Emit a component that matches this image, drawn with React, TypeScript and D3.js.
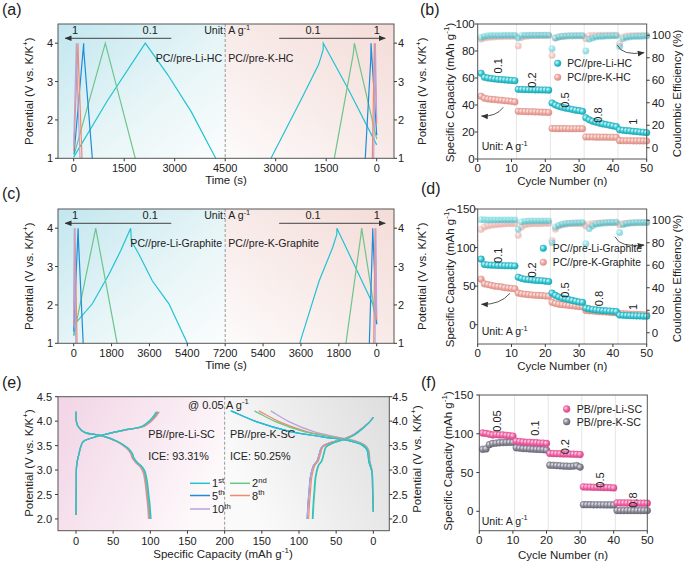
import React from 'react';
import * as d3 from 'd3';

type Pt = [number, number];
const FONT = 'Arial, "Liberation Sans", Helvetica, sans-serif';

// ---------------- (a) PC//pre-Li-HC | PC//pre-K-HC ----------------
const aHalf = 4500;
const aTimeTicks = [0, 1500, 3000, 4500];
const aLi01: Pt[] = [[0, 1.03], [1000, 2.5], [2127, 4.0], [2800, 3.17], [3494, 2.21], [4218, 1.0]];
const aLi02: Pt[] = [[30, 1.15], [939, 4.0], [1830, 1.0]];
const aLi05: Pt[] = [[10, 1.1], [297, 4.0], [300, 3.8], [553, 1.0]];
const aLi08: Pt[] = [[5, 1.2], [128, 4.0], [135, 3.7], [247, 1.0]];
const aLi1: Pt[] = [[0, 1.3], [79, 4.0], [85, 3.6], [188, 1.0]];
const aK01: Pt[] = [[0, 1.35], [843, 2.8], [1586, 4.0], [1590, 3.84], [1650, 3.65], [1733, 3.43], [2228, 2.56], [3140, 1.0]];
const aK02: Pt[] = [[0, 1.5], [664, 4.0], [694, 3.73], [1259, 1.0]];
const aK05: Pt[] = [[0, 1.6], [169, 4.0], [175, 3.6], [340, 1.0]];
const aK08: Pt[] = [[0, 1.9], [70, 4.0], [75, 3.7], [130, 1.0]];
const aK1: Pt[] = [[0, 2.0], [40, 4.0], [45, 3.6], [90, 1.0]];

// ---------------- (c) PC//pre-Li-Graphite | PC//pre-K-Graphite ----------------
const cHalf = 7200;
const cTimeTicks = [0, 1800, 3600, 5400, 7200];
const cLi01: Pt[] = [[0, 1.2], [130, 1.55], [885, 2.03], [1677, 2.8], [2232, 3.41], [2707, 4.0], [2740, 3.67], [3100, 3.32], [3734, 2.63], [4527, 2.03], [5400, 1.0]];
const cLi02: Pt[] = [[0, 1.2], [1048, 4.0], [1080, 3.9], [2063, 1.0]];
const cLi05: Pt[] = [[0, 1.3], [210, 4.0], [225, 3.7], [451, 1.0]];
const cLi08: Pt[] = [[0, 1.5], [60, 4.0], [70, 3.6], [160, 1.0]];
const cLi1: Pt[] = [[0, 1.6], [30, 4.0], [40, 3.6], [100, 1.0]];
const cK01: Pt[] = [[0, 1.5], [190, 2.03], [1891, 4.0], [1895, 3.84], [2097, 3.49], [2733, 2.63], [3591, 1.12], [3655, 1.0]];
const cK02: Pt[] = [[0, 1.5], [715, 4.0], [745, 3.84], [1462, 1.0]];
const cK05: Pt[] = [[0, 1.5], [190, 4.0], [200, 3.7], [350, 1.0]];
const cK08: Pt[] = [[0, 1.6], [80, 4.0], [85, 3.6], [140, 1.0]];
const cK1: Pt[] = [[0, 1.7], [40, 4.0], [50, 3.6], [80, 1.0]];

const potTicks = [1, 2, 3, 4];
const rates = ['0.1', '0.2', '0.5', '0.8', '1'];

// ---------------- (b) rate, HC ----------------
const cycles = d3.range(1, 51);
const bLiCap = [63.5, 60.5, 60, 59.6, 59.3, 59, 58.8, 58.6, 58.4, 58.2, 58,
  51.6, 51.5, 51.4, 51.3, 51.3, 51.2, 51.2, 51.1, 51.1, 51,
  41.5, 40, 39, 38.3, 37.7, 37.2, 36.7, 36.2, 35.8, 35.3,
  30.5, 29, 28, 27.3, 26.6, 26, 25.5, 25, 24.5, 24,
  21.6, 21.3, 21, 20.8, 20.5, 20.3, 20, 19.8, 19.5];
const bKCap = [46.5, 45, 44.5, 44.2, 44, 43.7, 43.5, 43.2, 43, 42.7, 42.3,
  35.3, 35.2, 35.1, 35, 35, 34.9, 34.8, 34.7, 34.6, 34.5,
  22.6, 22.5, 22.5, 22.5, 22.5, 22.4, 22.4, 22.4, 22.4, 22.4,
  16.3, 16.3, 16.3, 16.2, 16.2, 16.2, 16.2, 16.1, 16.1, 16.1,
  13.6, 13.5, 13.5, 13.5, 13.4, 13.4, 13.4, 13.4, 13.3];
const bLiCE = [98, 99, 99.5, 99.7, 99.8, 99.8, 99.8, 99.9, 99.9, 99.9, 99.9,
  97.5, 99.8, 99.9, 99.9, 100, 100, 100, 100, 100, 100,
  88, 97.5, 98.5, 99, 99.3, 99.5, 99.5, 99.6, 99.6, 99.6,
  86, 96.5, 97.5, 98.5, 99, 99, 99.3, 99.3, 99.5, 99.5,
  90, 97, 98, 98.5, 98.8, 99, 99, 99.2, 99.3];
const bKCE = [96.5, 97.5, 98, 98.3, 98.5, 98.7, 98.8, 98.9, 99, 99, 99.1,
  90.5, 98, 99, 99.3, 99.5, 99.6, 99.7, 99.7, 99.8, 99.8,
  82, 97.5, 98.5, 99, 99.2, 99.3, 99.4, 99.5, 99.5, 99.5,
  97, 99.5, 99.7, 99.8, 99.9, 99.9, 100, 100, 100, 100,
  92.5, 98.5, 99.2, 99.5, 99.6, 99.7, 99.8, 99.8, 99.8];
const bRateAt: Pt[] = [[6.1, 69], [16, 58.5], [25.8, 43.7], [35.7, 32.6], [46, 27.6]];

// ---------------- (d) rate, Graphite ----------------
const dLiCap = [85, 78, 77.5, 77.2, 77, 76.8, 76.7, 76.5, 76.4, 76.3, 76.2,
  61.5, 60, 59, 58.5, 58, 57.5, 57.2, 57, 56.5, 56,
  41, 38, 36, 34.5, 33.5, 32.5, 31.5, 30.5, 29.5, 29,
  21.5, 20.5, 19.8, 19.2, 18.7, 18.3, 18, 17.7, 17.4, 17,
  12.5, 12.2, 12, 11.8, 11.6, 11.4, 11.3, 11.1, 11];
const dKCap = [59, 53, 52, 51, 50, 49.5, 49, 48, 47.5, 47, 46.5,
  41, 40, 39.5, 39, 38.5, 38.2, 38, 37.7, 37.3, 37,
  29, 27.5, 26.5, 26, 25.5, 25, 24.5, 24, 23.5, 23,
  18.5, 18, 17.7, 17.3, 17, 16.7, 16.4, 16, 15.7, 15.3,
  14.5, 14.2, 14, 13.8, 13.6, 13.4, 13.2, 13, 12.8];
const dLiCE = [100.5, 100.3, 100.2, 100.2, 100.2, 100.2, 100.2, 100.2, 100.2, 100.2, 100.2,
  92, 98.5, 99, 99.2, 99.3, 99.3, 99.3, 99.3, 99.3, 99.3,
  80, 94, 95.5, 96.5, 97, 97.3, 97.5, 97.7, 97.8, 98,
  79, 92.5, 95, 96.5, 97, 97.5, 97.8, 98, 98, 98.2,
  89, 96, 97, 97.5, 97.8, 98, 98, 98, 98];
const dKCE = [91.8, 94, 95, 95.5, 96, 96.3, 96.5, 96.8, 97, 97, 97,
  86.7, 94, 96, 96.5, 97, 97, 97, 97.2, 97.2, 97.2,
  82, 92, 95, 96, 96.5, 97, 97, 97, 97, 97,
  95, 96.5, 97, 97.3, 97.5, 97.6, 97.7, 97.8, 97.8, 97.8,
  96, 97, 97.3, 97.5, 97.6, 97.7, 97.8, 97.8, 97.8];
const dRateAt: Pt[] = [[6.1, 90], [16, 71], [25.8, 45], [36, 34], [46, 23]];

// ---------------- (e) PB//pre-Li-SC | PB//pre-K-SC ----------------
const eCycleNames = ['1', '2', '5', '8', '10'];
const eCycleSups = ['st', 'nd', 'th', 'th', 'th'];
const eLiCharge: Pt[] = [[0, 2.08], [0.4, 2.7], [0.9, 3.1], [3.6, 3.31], [9.5, 3.58], [20, 3.65], [40, 3.735], [65, 3.82], [88, 3.89], [99.5, 4.02], [104, 4.1], [108, 4.19]];
const eLiDischarge: Pt[] = [[0, 4.19], [0.3, 4.05], [1, 3.96], [3, 3.89], [11.7, 3.77], [36, 3.7], [57, 3.58], [70, 3.45], [76, 3.34], [78, 3.25], [83, 3.15], [89, 3.07], [93, 2.97], [96, 2.76], [98, 2.5], [99.5, 2.3], [101, 2.0]];
const eLiChargeEnd = [108, 109, 110, 111, 112];
const eLiDischargeEnd = [101, 100, 99.5, 98.5, 97.5];
const eKCharge: Pt[] = [[0, 2.15], [1, 2.6], [2, 2.97], [6, 3.17], [8.5, 3.41], [15, 3.51], [33, 3.6], [69, 3.68], [113, 3.79], [158, 3.99], [180, 4.13], [192, 4.21]];
const eKDischarge: Pt[] = [[0, 4.08], [5, 3.98], [15, 3.84], [25, 3.72], [33, 3.66], [40, 3.62], [55, 3.55], [64, 3.47], [67, 3.33], [70, 3.18], [74, 3.1], [78, 2.86], [79.5, 2.6], [81, 2.3], [82, 2.0]];
const eKChargeEnd = [192, 160, 191, 154, 138];
const eKDischargeEnd = [82, 81, 89, 87, 89];
const eCapTicks = [0, 50, 100, 150, 200];
const eVTicks = [2.0, 2.5, 3.0, 3.5, 4.0, 4.5];

// ---------------- (f) rate, SC ----------------
const fLiCap = [101, 100.5, 99.5, 98.5, 99, 98.5, 98.5, 98, 97.5, 97,
  90.5, 90, 89.5, 89, 89, 88.5, 88.5, 88, 88, 87.5,
  74.6, 74.5, 74.3, 74.2, 74, 74, 73.8, 73.7, 73.5, 73.3,
  31.5, 31.3, 31.2, 31, 31, 30.8, 30.7, 30.6, 30.5, 30.2,
  10.9, 10.8, 10.8, 10.7, 10.7, 10.6, 10.6, 10.5, 10.5, 10.4];
const fKCap = [80, 80.5, 86, 87.5, 88, 88.4, 88.6, 88.8, 89, 89,
  82, 81.5, 81, 80.8, 80.5, 80.2, 80, 79.8, 79.5, 79,
  59.5, 59.3, 59, 58.7, 58.4, 58.2, 58, 58.3, 58.8, 57,
  8.5, 8.5, 8.5, 8.4, 8.4, 8.4, 8.4, 8.3, 8.3, 8.3,
  1, 1, 1, 1, 1, 1, 1, 1, 1, 1];
const fRates = ['0.05', '0.1', '0.2', '0.5', '0.8'];
const fRateAt: Pt[] = [[5.2, 116.5], [16.6, 107.4], [25.5, 83.3], [35.9, 40.4], [45.7, 14.6]];

// ---------------- styling ----------------
const LINE_COLORS = ['#22c3d3', '#6cc58a', '#1c8cdb', '#f2896b', '#b8a3da'];
const AX = '#3a3a3a';

const Sup = ({ t, fs, after }: { t: string; fs: number; after?: string }) => (
  <>
    <tspan dy={-fs * 0.4} fontSize={fs * 0.7}>{t}</tspan>
    {after !== undefined ? <tspan dy={fs * 0.4}>{after}</tspan> : null}
  </>
);

function Frame({ x0, x1, y0, y1 }: any) {
  return <rect x={x0} y={y0} width={x1 - x0} height={y1 - y0} fill="none" stroke="#555" strokeWidth={1} />;
}

function XTicks({ pos, labels, y, fs = 11, off = 13.5 }: any) {
  return (
    <g>
      {pos.map((p: number, i: number) => (
        <g key={i}>
          <line x1={p} x2={p} y1={y} y2={y + 3} stroke={AX} />
          <text x={p} y={y + off} textAnchor="middle" fontSize={fs} fill="#222">{labels[i]}</text>
        </g>
      ))}
    </g>
  );
}

function YTicks({ pos, labels, x, side, fs = 11, gap = 5 }: any) {
  return (
    <g>
      {pos.map((p: number, i: number) => (
        <g key={i}>
          <line x1={x} x2={side === 'L' ? x - 3 : x + 3} y1={p} y2={p} stroke={AX} />
          <text x={side === 'L' ? x - gap : x + gap} y={p + 4} textAnchor={side === 'L' ? 'end' : 'start'} fontSize={fs} fill="#222">{labels[i]}</text>
        </g>
      ))}
    </g>
  );
}

function PotTitle({ x, y }: { x: number; y: number }) {
  return (
    <text transform={`translate(${x},${y}) rotate(-90)`} textAnchor="middle" fontSize={11.5} fill="#222">
      Potential (V vs. K/K<Sup t="+" fs={11.5} after=")" />
    </text>
  );
}

function CapTitle({ x, y }: { x: number; y: number }) {
  return (
    <text transform={`translate(${x},${y}) rotate(-90)`} textAnchor="middle" fontSize={11.5} fill="#222">
      Specific Capacity (mAh g<Sup t="-1" fs={11.5} after=")" />
    </text>
  );
}

function Unit({ x, y, fs = 10.6 }: any) {
  return (
    <text x={x} y={y} fontSize={fs} fill="#222">
      Unit: A g<Sup t="-1" fs={fs} />
    </text>
  );
}

// ------------ Potential-time panel (a) and (c) -------------
function TimePanel({ top, half, ticks, li, k, liName, kName }: any) {
  const x0 = 58, x1 = 394, y0 = top, y1 = top + 134.3;
  const xs = d3.scaleLinear().domain([-0.1036 * half, 2 * half + 0.1142 * half]).range([x0, x1]);
  const ys = d3.scaleLinear().domain([1, 4.5]).range([y1, y0]);
  const xm = xs(half);
  const lineL = d3.line<Pt>().x(d => xs(d[0])).y(d => ys(d[1]));
  const lineR = d3.line<Pt>().x(d => xs(2 * half - d[0])).y(d => ys(d[1]));
  const pos = [...ticks.map((t: number) => xs(t)), ...ticks.slice(0, -1).reverse().map((t: number) => xs(2 * half - t))];
  const labs = [...ticks.map(String), ...ticks.slice(0, -1).reverse().map(String)];
  const ay = y0 + 14.3;
  const gid = `g${top}`;
  return (
    <g>
      <defs>
        <linearGradient id={`${gid}L`} x1="0" y1="0" x2="1" y2="1">
          <stop offset="0" stopColor="#c2e7ef" />
          <stop offset="0.55" stopColor="#e7f5f7" />
          <stop offset="1" stopColor="#fbfdfd" />
        </linearGradient>
        <linearGradient id={`${gid}R`} x1="1" y1="0" x2="0" y2="1">
          <stop offset="0" stopColor="#f4dcd8" />
          <stop offset="0.55" stopColor="#f8ecea" />
          <stop offset="1" stopColor="#fdfbfb" />
        </linearGradient>
      </defs>
      <rect x={x0} y={y0} width={xm - x0} height={y1 - y0} fill={`url(#${gid}L)`} />
      <rect x={xm} y={y0} width={x1 - xm} height={y1 - y0} fill={`url(#${gid}R)`} />
      <line x1={xm} x2={xm} y1={y0} y2={y1} stroke="#999" strokeDasharray="3,2" />
      <g fill="none" strokeWidth={1.2}>
        {li.map((c: Pt[], i: number) => <path key={'l' + i} d={lineL(c) || ''} stroke={LINE_COLORS[i]} />)}
        {k.map((c: Pt[], i: number) => <path key={'k' + i} d={lineR(c) || ''} stroke={LINE_COLORS[i]} />)}
      </g>
      <line x1={xs(0.644 * half)} x2={xs(-0.056 * half)} y1={ay} y2={ay} stroke="#444" strokeWidth={1} markerEnd="url(#arrowHead)" />
      <line x1={xs(2 * half - 0.644 * half)} x2={xs(2 * half + 0.056 * half)} y1={ay} y2={ay} stroke="#444" strokeWidth={1} markerEnd="url(#arrowHead)" />
      <text x={xs(0.009 * half)} y={ay - 4} textAnchor="middle" fontSize={11} fill="#222">{rates[4]}</text>
      <text x={xs(0.505 * half)} y={ay - 4} textAnchor="middle" fontSize={11} fill="#222">{rates[0]}</text>
      <text x={xs(2 * half - 0.42 * half)} y={ay - 4} textAnchor="middle" fontSize={11} fill="#222">{rates[0]}</text>
      <text x={xs(2 * half)} y={ay - 4} textAnchor="middle" fontSize={11} fill="#222">{rates[4]}</text>
      <Unit x={xm - 21} y={ay - 4} />
      <text x={xm - 3} y={y0 + 37.7} textAnchor="end" fontSize={10.6} fill="#222">{liName}</text>
      <text x={xm + 3} y={y0 + 37.7} textAnchor="start" fontSize={10.6} fill="#222">{kName}</text>
      <Frame x0={x0} x1={x1} y0={y0} y1={y1} />
      <XTicks pos={pos} labels={labs} y={y1} />
      <YTicks pos={potTicks.map(v => ys(v))} labels={potTicks.map(String)} x={x0} side="L" />
      <YTicks pos={potTicks.map(v => ys(v))} labels={potTicks.map(String)} x={x1} side="R" gap={4} />
      <text x={(x0 + x1) / 2} y={y1 + 26} textAnchor="middle" fontSize={11.5} fill="#222">Time (s)</text>
      <PotTitle x={33} y={(y0 + y1) / 2} />
      <PotTitle x={426} y={(y0 + y1) / 2} />
    </g>
  );
}

function Ball({ x, y, g, r = 3.3, op = 1, stroke }: any) {
  return <circle cx={x} cy={y} r={r} fill={`url(#${g})`} stroke={stroke} strokeWidth={0.5} opacity={op} />;
}

// ------------ Rate panels (b), (d) -------------
function RatePanel({ top, capDomain, capTicks, li, k, liCE, kCE, liName, kName, rateAt, legX, arrows, capGap }: any) {
  const x0 = 477.7, x1 = 646.7, y0 = top, y1 = top + 135;
  const xs = d3.scaleLinear().domain([0, 50]).range([x0, x1]);
  const ys = d3.scaleLinear().domain(capDomain).range([y1, y0]);
  const ce = d3.scaleLinear().domain([-10, 110]).range([y1, y0]);
  const ceTicks = [0, 20, 40, 60, 80, 100];
  return (
    <g>
      {[11.5, 21.5, 31.5, 41.5].map(s => <line key={s} x1={xs(s)} x2={xs(s)} y1={y0} y2={y1} stroke="#e6e6e6" strokeWidth={1} />)}
      {cycles.map((c, i) => <Ball key={'kce' + i} x={xs(c)} y={ce(kCE[i])} g="gPink" op={0.55} stroke="#e8b0aa" />)}
      {cycles.map((c, i) => <Ball key={'lce' + i} x={xs(c)} y={ce(liCE[i])} g="gCyan" op={0.5} stroke="#7fd8e0" />)}
      {cycles.map((c, i) => <Ball key={'k' + i} x={xs(c)} y={ys(k[i])} g="gPink" stroke="#d98e86" />)}
      {cycles.map((c, i) => <Ball key={'l' + i} x={xs(c)} y={ys(li[i])} g="gCyan" stroke="#1aa7b4" />)}
      {rateAt.map((p: Pt, i: number) => (
        <text key={i} transform={`translate(${xs(p[0])},${ys(p[1])}) rotate(-90)`} textAnchor="middle" dominantBaseline="central" fontSize={11} fill="#222">{rates[i]}</text>
      ))}
      <Ball x={legX} y={y0 + 39.3} g="gCyan" stroke="#1aa7b4" />
      <text x={legX + 9.5} y={y0 + 43.3} fontSize={10.3} fill="#222">{liName}</text>
      <Ball x={legX} y={y0 + 53.3} g="gPink" stroke="#d98e86" />
      <text x={legX + 9.5} y={y0 + 57.3} fontSize={10.3} fill="#222">{kName}</text>
      {arrows.map((a: number[], i: number) => (
        <path key={i} d={`M${a[0]},${a[1]} Q${a[2]},${a[3]} ${a[4]},${a[5]}`} fill="none" stroke="#444" strokeWidth={0.9} markerEnd="url(#arrowHead)" />
      ))}
      <Unit x={481.7} y={y1 - 9} />
      <Frame x0={x0} x1={x1} y0={y0} y1={y1} />
      <XTicks pos={[0, 10, 20, 30, 40, 50].map(v => xs(v))} labels={['0', '10', '20', '30', '40', '50']} y={y1} fs={11.5} off={13} />
      <YTicks pos={capTicks.map((v: number) => ys(v))} labels={capTicks.map(String)} x={x0} side="L" fs={11.5} gap={capGap} />
      <YTicks pos={ceTicks.map(v => ce(v))} labels={ceTicks.map(String)} x={x1} side="R" fs={11.5} gap={5} />
      <text x={(x0 + x1) / 2} y={y1 + 26} textAnchor="middle" fontSize={11.5} fill="#222">Cycle Number (n)</text>
      <CapTitle x={454} y={(y0 + y1) / 2 + 1} />
      <text transform={`translate(681,${(y0 + y1) / 2 + 2}) rotate(-90)`} textAnchor="middle" fontSize={11.5} fill="#222">Coulombic Efficiency (%)</text>
    </g>
  );
}

// ------------ (e) -------------
function PanelE() {
  const x0 = 58, x1 = 389.3, y0 = 396.7, y1 = 530.7;
  const xs = d3.scaleLinear().domain([-24.2, 421.5]).range([x0, x1]);
  const ys = d3.scaleLinear().domain([1.76, 4.5]).range([y1, y0]);
  const xm = xs(200);
  const lineLc = d3.line<Pt>().x(d => xs(d[0])).y(d => ys(d[1])).curve(d3.curveCatmullRom);
  const lineRc = d3.line<Pt>().x(d => xs(400 - d[0])).y(d => ys(d[1])).curve(d3.curveCatmullRom);
  const sc = (shape: Pt[], end: number): Pt[] => {
    const base = shape[shape.length - 1][0];
    return shape.map(([c, v]) => [c * end / base, v] as Pt);
  };
  const pos = [...eCapTicks.map(t => xs(t)), ...eCapTicks.slice(0, -1).reverse().map(t => xs(400 - t))];
  const labs = [...eCapTicks.map(String), ...eCapTicks.slice(0, -1).reverse().map(String)];
  const order = [2, 4, 3, 1, 0];
  return (
    <g>
      <defs>
        <linearGradient id="eL" x1="0" y1="0" x2="1" y2="0.4">
          <stop offset="0" stopColor="#f2d4e6" />
          <stop offset="0.6" stopColor="#f8e9f1" />
          <stop offset="1" stopColor="#fdf8fa" />
        </linearGradient>
        <linearGradient id="eR" x1="1" y1="0" x2="0" y2="0.4">
          <stop offset="0" stopColor="#dedede" />
          <stop offset="0.6" stopColor="#eeeeee" />
          <stop offset="1" stopColor="#fafafa" />
        </linearGradient>
      </defs>
      <rect x={x0} y={y0} width={xm - x0} height={y1 - y0} fill="url(#eL)" />
      <rect x={xm} y={y0} width={x1 - xm} height={y1 - y0} fill="url(#eR)" />
      <line x1={xm} x2={xm} y1={y0} y2={y1} stroke="#999" strokeDasharray="3,2" />
      <g fill="none" strokeWidth={1.2}>
        {order.map(i => <path key={'lc' + i} d={lineLc(sc(eLiCharge, eLiChargeEnd[i])) || ''} stroke={LINE_COLORS[i]} />)}
        {order.map(i => <path key={'ld' + i} d={lineLc(sc(eLiDischarge, eLiDischargeEnd[i])) || ''} stroke={LINE_COLORS[i]} />)}
        {order.map(i => <path key={'rc' + i} d={lineRc(sc(eKCharge, eKChargeEnd[i])) || ''} stroke={LINE_COLORS[i]} />)}
        {order.map(i => <path key={'rd' + i} d={lineRc(sc(eKDischarge, eKDischargeEnd[i])) || ''} stroke={LINE_COLORS[i]} />)}
      </g>
      <text x={188} y={408.5} fontSize={11} fill="#222">@ 0.05 A g<Sup t="-1" fs={11} /></text>
      <text x={148.3} y={438.3} fontSize={10.8} fill="#222">PB//pre-Li-SC</text>
      <text x={230} y={438.3} fontSize={10.8} fill="#222">PB//pre-K-SC</text>
      <text x={148.3} y={460} fontSize={10.8} fill="#222">ICE: 93.31%</text>
      <text x={230} y={460} fontSize={10.8} fill="#222">ICE: 50.25%</text>
      {eCycleNames.map((n, i) => {
        const col = i % 2, row = Math.floor(i / 2);
        const lx = col === 0 ? 190 : 230;
        const ly = [483.3, 495.5, 509][row];
        return (
          <g key={n}>
            <line x1={lx} x2={lx + 20} y1={ly} y2={ly} stroke={LINE_COLORS[i]} strokeWidth={1.5} />
            <text x={lx + 22} y={ly + 4} fontSize={11} fill="#222">{n}<Sup t={eCycleSups[i]} fs={11} /></text>
          </g>
        );
      })}
      <Frame x0={x0} x1={x1} y0={y0} y1={y1} />
      <XTicks pos={pos} labels={labs} y={y1} off={14} />
      <YTicks pos={eVTicks.map(v => ys(v))} labels={eVTicks.map(v => v.toFixed(1))} x={x0} side="L" gap={6} />
      <YTicks pos={eVTicks.map(v => ys(v))} labels={eVTicks.map(v => v.toFixed(1))} x={x1} side="R" gap={3} />
      <text x={223} y={557.5} textAnchor="middle" fontSize={11.5} fill="#222">Specific Capacity (mAh g<Sup t="-1" fs={11.5} after=")" /></text>
      <PotTitle x={33} y={463} />
      <PotTitle x={421} y={459} />
    </g>
  );
}

// ------------ (f) -------------
function PanelF() {
  const x0 = 479.3, x1 = 647.3, y0 = 395, y1 = 530.7;
  const xs = d3.scaleLinear().domain([0, 50]).range([x0, x1]);
  const ys = d3.scaleLinear().domain([-25, 150]).range([y1, y0]);
  const capT = [0, 50, 100, 150];
  return (
    <g>
      {[10.5, 20.5, 30.5, 40.5].map(s => <line key={s} x1={xs(s)} x2={xs(s)} y1={y0} y2={y1} stroke="#e6e6e6" />)}
      {cycles.map((c, i) => <Ball key={'k' + i} x={xs(c)} y={ys(fKCap[i])} g="gGray" r={3.4} stroke="#6d6d7a" />)}
      {cycles.map((c, i) => <Ball key={'l' + i} x={xs(c)} y={ys(fLiCap[i])} g="gMag" r={3.4} stroke="#d84f8e" />)}
      {fRateAt.map((p, i) => (
        <text key={i} transform={`translate(${xs(p[0])},${ys(p[1])}) rotate(-90)`} textAnchor="middle" dominantBaseline="central" fontSize={11} fill="#222">{fRates[i]}</text>
      ))}
      <Ball x={566.7} y={409} g="gMag" r={3.4} stroke="#d84f8e" />
      <text x={576.7} y={413} fontSize={10.6} fill="#222">PB//pre-Li-SC</text>
      <Ball x={566.7} y={421.7} g="gGray" r={3.4} stroke="#6d6d7a" />
      <text x={576.7} y={425.7} fontSize={10.6} fill="#222">PB//pre-K-SC</text>
      <Unit x={481.7} y={524.5} />
      <Frame x0={x0} x1={x1} y0={y0} y1={y1} />
      <XTicks pos={[0, 10, 20, 30, 40, 50].map(v => xs(v))} labels={['0', '10', '20', '30', '40', '50']} y={y1} fs={11.5} off={13} />
      <YTicks pos={capT.map(v => ys(v))} labels={capT.map(String)} x={x0} side="L" fs={11.5} gap={6} />
      <text x={563} y={558.5} textAnchor="middle" fontSize={11.5} fill="#222">Cycle Number (n)</text>
      <CapTitle x={452} y={461} />
    </g>
  );
}

export default function App() {
  return (
    <svg width={685} height={563} style={{ position: 'absolute', left: 0, top: 0, background: '#fff' }} fontFamily={FONT}>
      <defs>
        <marker id="arrowHead" viewBox="0 0 10 10" refX="9" refY="5" markerWidth="7" markerHeight="7" orient="auto-start-reverse" markerUnits="userSpaceOnUse">
          <path d="M0,1 L10,5 L0,9 z" fill="#333" />
        </marker>
        <radialGradient id="gCyan" cx="0.35" cy="0.35" r="0.7">
          <stop offset="0" stopColor="#d6f7fa" />
          <stop offset="0.5" stopColor="#3ccbd6" />
          <stop offset="1" stopColor="#159fac" />
        </radialGradient>
        <radialGradient id="gPink" cx="0.35" cy="0.35" r="0.7">
          <stop offset="0" stopColor="#fdeae7" />
          <stop offset="0.5" stopColor="#f0aaa2" />
          <stop offset="1" stopColor="#d98c84" />
        </radialGradient>
        <radialGradient id="gMag" cx="0.35" cy="0.35" r="0.7">
          <stop offset="0" stopColor="#ffd6ea" />
          <stop offset="0.5" stopColor="#f466a8" />
          <stop offset="1" stopColor="#d0408a" />
        </radialGradient>
        <radialGradient id="gGray" cx="0.35" cy="0.35" r="0.7">
          <stop offset="0" stopColor="#e6e6ee" />
          <stop offset="0.5" stopColor="#8e8e9c" />
          <stop offset="1" stopColor="#5e5e6c" />
        </radialGradient>
      </defs>
      <TimePanel top={24} half={aHalf} ticks={aTimeTicks}
        li={[aLi01, aLi02, aLi05, aLi08, aLi1]} k={[aK01, aK02, aK05, aK08, aK1]}
        liName="PC//pre-Li-HC" kName="PC//pre-K-HC" />
      <TimePanel top={209} half={cHalf} ticks={cTimeTicks}
        li={[cLi01, cLi02, cLi05, cLi08, cLi1]} k={[cK01, cK02, cK05, cK08, cK1]}
        liName="PC//pre-Li-Graphite" kName="PC//pre-K-Graphite" />
      <RatePanel top={24} capDomain={[0, 100]} capTicks={[0, 20, 40, 60, 80, 100]}
        li={bLiCap} k={bKCap} liCE={bLiCE} kCE={bKCE}
        liName="PC//pre-Li-HC" kName="PC//pre-K-HC" rateAt={bRateAt} legX={557.7} capGap={3}
        arrows={[[503.3, 107.3, 496, 117, 481.5, 116], [617.3, 45, 622, 56, 644, 52.7]]} />
      <RatePanel top={209} capDomain={[-25, 150]} capTicks={[0, 50, 100, 150]}
        li={dLiCap} k={dKCap} liCE={dLiCE} kCE={dKCE}
        liName="PC//pre-Li-Graphite" kName="PC//pre-K-Graphite" rateAt={dRateAt} legX={543.3} capGap={2}
        arrows={[[510, 293.3, 500, 305, 481.5, 304.3], [615, 236.7, 620, 248, 644, 245]]} />
      <PanelE />
      <PanelF />
      <text x={2} y={15} fontSize={16} fill="#222">(a)</text>
      <text x={420} y={15} fontSize={16} fill="#222">(b)</text>
      <text x={2} y={199} fontSize={16} fill="#222">(c)</text>
      <text x={421} y={194} fontSize={16} fill="#222">(d)</text>
      <text x={2} y={388} fontSize={16} fill="#222">(e)</text>
      <text x={421} y={388} fontSize={16} fill="#222">(f)</text>
    </svg>
  );
}
